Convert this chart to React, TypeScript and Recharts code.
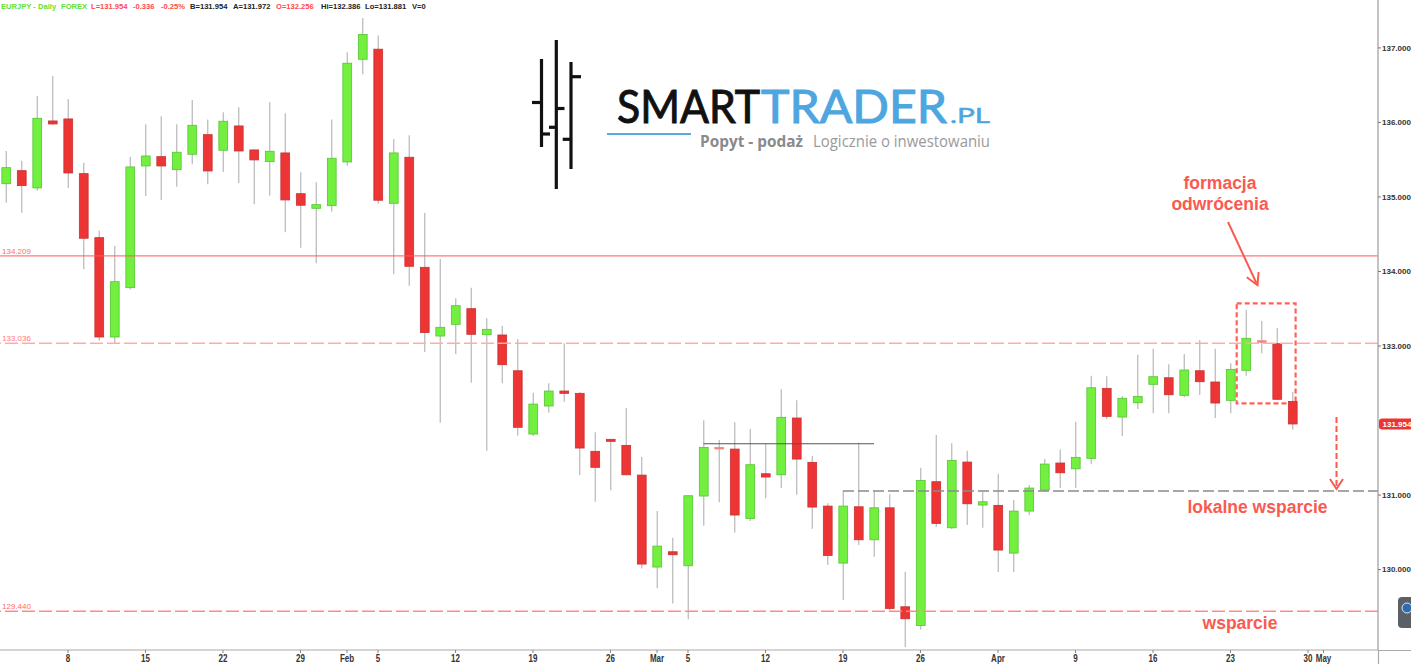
import React from 'react';
import { ComposedChart, Bar, XAxis, YAxis, ReferenceLine, ReferenceArea } from 'recharts';

// EURJPY daily, 2018-01-02 .. 2018-04-27 (trading days, index 0..83)
const opens = [
  135.178, 135.353, 135.121, 136.020, 136.047, 135.313, 134.454, 133.121, 133.783, 135.416,
  135.541, 135.366, 135.573, 135.836, 135.627, 135.953, 135.631, 135.474, 135.591, 135.044,
  134.848, 134.883, 135.470, 136.848, 136.983, 134.915, 135.533, 134.056, 133.134, 133.291,
  133.501, 133.152, 133.148, 132.668, 131.819, 132.195, 132.396, 132.365, 131.587, 131.748,
  131.667, 131.268, 130.034, 130.239, 130.051, 130.987, 131.640, 131.617, 130.687, 131.286,
  131.272, 132.034, 131.439, 130.852, 130.087, 130.843, 130.400, 130.829, 129.501, 129.251,
  131.179, 130.561, 131.443, 130.866, 130.862, 130.221, 130.785, 131.067, 131.430, 131.353,
  131.493, 132.432, 132.047, 132.239, 132.486, 132.574, 132.338, 132.668, 132.517, 132.271,
  132.674, 133.071, 133.031, 132.256,
];
const highs = [
  135.617, 135.487, 136.356, 136.624, 136.315, 135.460, 134.548, 134.342, 135.541, 135.976,
  136.083, 135.976, 136.302, 136.038, 136.137, 136.204, 135.640, 136.271, 136.123, 135.332,
  135.197, 136.038, 136.942, 137.403, 137.165, 135.779, 135.828, 134.785, 134.168, 133.640,
  133.783, 133.372, 133.268, 133.094, 132.373, 132.499, 133.036, 132.383, 131.842, 131.752,
  132.168, 131.510, 130.785, 130.427, 130.991, 132.003, 131.738, 131.976, 131.886, 131.689,
  132.419, 132.271, 131.523, 130.889, 131.054, 131.707, 131.054, 131.010, 129.970, 131.366,
  131.805, 131.694, 131.595, 131.040, 131.286, 130.933, 131.134, 131.483, 131.613, 131.984,
  132.601, 132.593, 132.329, 132.883, 132.964, 132.754, 132.893, 133.081, 132.964, 132.768,
  133.483, 133.336, 133.242, 132.386,
];
const lows = [
  134.923, 134.789, 135.085, 135.966, 135.121, 134.030, 133.071, 133.036, 133.760, 135.013,
  134.960, 135.138, 135.439, 135.170, 135.336, 135.188, 134.902, 135.017, 134.526, 134.319,
  134.110, 134.803, 135.420, 136.647, 134.910, 133.962, 133.809, 132.919, 131.970, 132.893,
  132.507, 131.595, 132.499, 131.796, 131.792, 132.105, 132.252, 131.268, 130.910, 131.063,
  131.268, 130.016, 129.748, 129.546, 129.332, 130.588, 130.902, 130.499, 130.651, 130.956,
  131.094, 131.004, 130.548, 130.060, 129.591, 130.329, 130.172, 129.456, 128.960, 129.197,
  130.570, 130.544, 130.597, 130.561, 129.966, 129.966, 130.732, 131.040, 131.094, 131.094,
  131.412, 132.016, 131.792, 132.154, 132.097, 132.097, 132.311, 132.342, 132.034, 132.097,
  132.601, 132.902, 132.275, 131.881,
];
const closes = [
  135.393, 135.152, 136.056, 135.980, 135.322, 134.446, 133.121, 133.863, 135.403, 135.550,
  135.416, 135.600, 135.962, 135.349, 136.016, 135.617, 135.497, 135.613, 134.960, 134.889,
  134.897, 135.519, 136.795, 137.179, 134.956, 135.591, 134.070, 133.181, 133.251, 133.541,
  133.157, 133.224, 132.749, 131.909, 132.221, 132.396, 132.365, 131.631, 131.372, 131.721,
  131.272, 130.074, 130.315, 130.199, 130.991, 131.640, 131.630, 130.732, 131.407, 131.242,
  132.043, 131.483, 130.839, 130.190, 130.852, 130.400, 130.829, 129.479, 129.340, 131.197,
  130.620, 131.466, 130.883, 130.910, 130.262, 130.785, 131.094, 131.416, 131.299, 131.506,
  132.440, 132.056, 132.298, 132.325, 132.588, 132.346, 132.678, 132.521, 132.235, 132.687,
  133.103, 133.060, 132.285, 131.954,
];

const xTicks = [4, 9, 14, 19, 22, 24, 29, 34, 39, 42, 44, 49, 54, 59, 64, 69, 74, 79, 84, 85];
const xTickLabels = ['8', '15', '22', '29', 'Feb', '5', '12', '19', '26', 'Mar', '5', '12', '19', '26', 'Apr', '9', '16', '23', '30', 'May'];
const yTicks = [130, 131, 131.954, 133, 134, 135, 136, 137];
const lastPrice = 131.954;

const resistanceSolid = 134.209;
const resistanceDashed = 133.036;
const supportMain = 129.44;
const localHighLevel = 131.689;
const localHighRange = [45, 56];
const localSupportLevel = 131.054;
const localSupportRange = [54, 88.516];
const patternX = [79.4, 83.2];
const patternY = [132.231, 133.573];

const data = opens.map((o, i) => ({ i, o, h: highs[i], l: lows[i], c: closes[i] }));

const W = 1411;
const H = 664;
const FONT = "'Liberation Sans', Arial, sans-serif";
const ANN = '#fa5a4f';
const LOGO = "Lato, 'Open Sans', sans-serif";

const Candle = (props: any) => {
  const { x, y, width, height, payload } = props;
  if (!payload || x == null || y == null) return null;
  const { o, h, l, c } = payload;
  const top = Math.min(y, y + height);
  const bot = Math.max(y, y + height);
  const k = h > l ? (bot - top) / (h - l) : 0;
  const py = (v: number) => top + (h - v) * k;
  const cx = x + width / 2;
  const up = c >= o;
  const doji = Math.abs(o - c) < 0.02;
  const bTop = py(Math.max(o, c));
  const bBot = py(Math.min(o, c));
  const bh = Math.max(bBot - bTop, 1.6);
  const fill = doji ? '#f47e7e' : up ? '#72ef3f' : '#ee3535';
  const stroke = doji ? '#f08a8a' : up ? '#55c532' : '#c93131';
  return (
    <g>
      <line x1={cx} x2={cx} y1={top} y2={bot} stroke="#b8b8b8" strokeWidth={1.2} />
      <rect x={x + 0.6} y={bTop} width={width - 1.2} height={bh} fill={fill} stroke={stroke} strokeWidth={0.8} />
    </g>
  );
};

const XTick = (props: any) => {
  const { x, y, payload } = props;
  const label = xTickLabels[xTicks.indexOf(payload.value)] ?? '';
  return (
    <g transform={`translate(${x},${y})`}>
      <text
        transform="scale(0.8,1)"
        x={0}
        y={0}
        dy="0.75em"
        textAnchor="middle"
        fontSize={10}
        fontWeight="bold"
        fontFamily={FONT}
        fill="#333"
      >
        {label}
      </text>
    </g>
  );
};

const YTick = (props: any) => {
  const { x, y, payload } = props;
  const v = payload.value;
  if (Math.abs(v - lastPrice) < 1e-6) {
    return (
      <g>
        <rect x={x - 3} y={y - 5.5} width={34} height={11} rx={3} fill="#ee3333" />
        <text x={x + 0.5} y={y} dy="0.35em" fontSize={8} fontWeight="bold" fontFamily={FONT} fill="#fff">
          {v.toFixed(3)}
        </text>
      </g>
    );
  }
  return (
    <g>
      <line x1={x - 4} x2={x - 1} y1={y} y2={y} stroke="#777" strokeWidth={1} />
      <text x={x} y={y} dy="0.35em" fontSize={8} fontWeight="bold" fontFamily={FONT} fill="#333">
        {v.toFixed(3)}
      </text>
    </g>
  );
};

const lineLabel = (value: string, fill: string) => ({
  value,
  position: 'insideBottomLeft' as const,
  offset: 2,
  fill,
  fontSize: 8,
  fontFamily: FONT,
});

const header: [number, string, string][] = [
  [1, 'EURJPY - Daily', '#62e03c'],
  [61, 'FOREX', '#62e03c'],
  [91, 'L=131.954', '#ff4a4a'],
  [133, '-0.336', '#ff4a4a'],
  [161, '-0.25%', '#ff4a4a'],
  [190, 'B=131.954', '#222'],
  [233, 'A=131.972', '#222'],
  [276, 'O=132.256', '#ff4a4a'],
  [321, 'Hi=132.386', '#222'],
  [365, 'Lo=131.881', '#222'],
  [412, 'V=0', '#222'],
];

const Overlay = () => (
  <svg width={W} height={H} style={{ position: 'absolute', left: 0, top: 0, pointerEvents: 'none' }}>
    {header.map(([x, t, col], k) => (
      <text key={k} x={x} y={8.6} fontSize={7.6} fontWeight="bold" fontFamily={FONT} fill={col}>
        {t}
      </text>
    ))}
    {/* logo icon */}
    <g stroke="#111" strokeWidth={3.2}>
      <line x1={541.5} x2={541.5} y1={59} y2={147} />
      <line x1={532} x2={541.5} y1={102.5} y2={102.5} />
      <line x1={541.5} x2={550} y1={134} y2={134} />
      <line x1={556.3} x2={556.3} y1={40} y2={189} />
      <line x1={556.3} x2={564.5} y1={108.5} y2={108.5} />
      <line x1={549} x2={556.3} y1={127.3} y2={127.3} />
      <line x1={571} x2={571} y1={62} y2={169} />
      <line x1={571} x2={581} y1={76.7} y2={76.7} />
      <line x1={562.7} x2={571} y1={139.3} y2={139.3} />
    </g>
    <text x={617} y={122.8} fontSize={46} fontFamily={LOGO} fill="#111" stroke="#111" strokeWidth={1} textLength={143} lengthAdjust="spacingAndGlyphs">
      SMART
    </text>
    <text x={761} y={122.8} fontSize={46} fontFamily={LOGO} fill="#4da6e0" stroke="#4da6e0" strokeWidth={1} textLength={186} lengthAdjust="spacingAndGlyphs">
      TRADER
    </text>
    <text x={950} y={122.8} fontSize={22} fontFamily={LOGO} fill="#4da6e0" stroke="#4da6e0" strokeWidth={0.5} textLength={40} lengthAdjust="spacingAndGlyphs">
      .PL
    </text>
    <line x1={607} x2={691} y1={134} y2={134} stroke="#59a9e3" strokeWidth={2.2} />
    <text x={700} y={146.5} fontSize={16} fontWeight="bold" fontFamily="'Open Sans', sans-serif" fill="#8a8a8a" textLength={103} lengthAdjust="spacingAndGlyphs">
      Popyt - podaż
    </text>
    <text x={813} y={146.5} fontSize={16} fontFamily="'Open Sans', sans-serif" fill="#9a9a9a" textLength={177} lengthAdjust="spacingAndGlyphs">
      Logicznie o inwestowaniu
    </text>

    {/* annotations */}
    <g fontFamily={FONT} fontWeight="bold" fontSize={17.5} fill={ANN} textAnchor="middle">
      <text x={1220} y={189}>formacja</text>
      <text x={1220} y={210}>odwrócenia</text>
      <text x={1257.5} y={513}>lokalne wsparcie</text>
      <text x={1240} y={629}>wsparcie</text>
    </g>
    <line x1={1228} y1={222} x2={1257.3} y2={285} stroke={ANN} strokeWidth={2} />
    <polyline points="1246.8,277.2 1257.5,285.2 1258.6,272" fill="none" stroke={ANN} strokeWidth={2} />
    <line x1={1336.5} y1={417} x2={1336.5} y2={488} stroke={ANN} strokeWidth={2} strokeDasharray="6 3" />
    <polyline points="1330,479 1336.5,489 1343,479" fill="none" stroke={ANN} strokeWidth={2} />

    {/* axis extensions */}
    <line x1={1378} x2={W} y1={650.5} y2={650.5} stroke="#aaa" strokeWidth={1.2} />
    <line x1={1378.5} x2={1378.5} y1={650} y2={H} stroke="#aaa" strokeWidth={1.2} />
    {/* nav button */}
    <rect x={1398} y={597} width={18} height={31} rx={4} fill="#5b6067" />
    <circle cx={1407} cy={608} r={5} fill="#2c6db0" stroke="#dfe6ee" strokeWidth={1} />
  </svg>
);

export default function App() {
  return (
    <div style={{ position: 'absolute', left: 0, top: 0, width: W, height: H, background: '#fff' }}>
      <ComposedChart width={W} height={H} data={data} margin={{ top: 0, right: 0, bottom: 0, left: 0 }}>
        <XAxis
          dataKey="i"
          type="number"
          domain={[-0.387, 88.516]}
          allowDataOverflow
          ticks={xTicks}
          interval={0}
          height={14}
          tickSize={3}
          tickMargin={1}
          axisLine={{ stroke: '#aaa', strokeWidth: 1.2 }}
          tickLine={{ stroke: '#888' }}
          tick={<XTick />}
        />
        <YAxis
          orientation="right"
          type="number"
          domain={[128.921, 137.643]}
          allowDataOverflow
          ticks={yTicks}
          interval={0}
          width={33}
          tickSize={3}
          tickMargin={1}
          axisLine={{ stroke: '#aaa', strokeWidth: 1.4 }}
          tickLine={false}
          tick={<YTick />}
        />
        <ReferenceLine y={resistanceSolid} stroke="#ff5a5a" strokeWidth={1} label={lineLabel('134.209', '#ff6b6b')} />
        <ReferenceLine y={resistanceDashed} stroke="#ffabab" strokeWidth={1.5} strokeDasharray="13 4" label={lineLabel('133.036', '#ff7b7b')} />
        <ReferenceLine y={supportMain} stroke="#ff8a8a" strokeWidth={1.5} strokeDasharray="13 4" label={lineLabel('129.440', '#ff6b6b')} />
        <ReferenceLine
          segment={[{ x: localHighRange[0], y: localHighLevel }, { x: localHighRange[1], y: localHighLevel }]}
          stroke="#555"
          strokeWidth={1.1}
        />
        <ReferenceLine
          segment={[{ x: localSupportRange[0], y: localSupportLevel }, { x: localSupportRange[1], y: localSupportLevel }]}
          stroke="#8a8a8a"
          strokeWidth={1.5}
          strokeDasharray="11 4"
        />
        <Bar dataKey={(d: any) => [d.l, d.h]} shape={<Candle />} barSize={10} isAnimationActive={false} />
        <ReferenceArea
          x1={patternX[0]}
          x2={patternX[1]}
          y1={patternY[0]}
          y2={patternY[1]}
          fill="none"
          fillOpacity={0}
          stroke="#ff6157"
          strokeWidth={2.2}
          strokeDasharray="5 3"
        />
      </ComposedChart>
      <Overlay />
    </div>
  );
}
